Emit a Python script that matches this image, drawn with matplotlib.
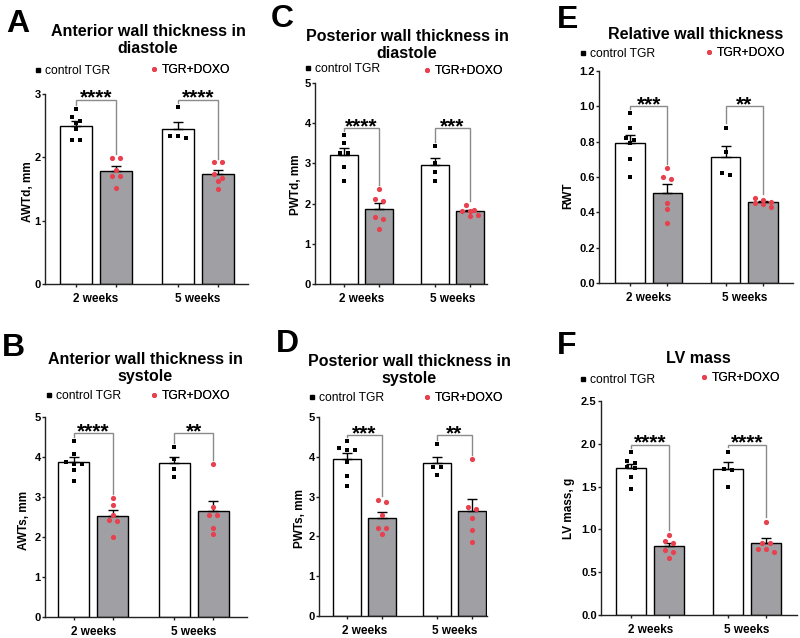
import numpy as np
import matplotlib
matplotlib.use("Agg")
import matplotlib.pyplot as plt
from matplotlib.lines import Line2D
from matplotlib import transforms

plt.rcParams['font.family'] = ['Liberation Sans', 'DejaVu Sans']

W, H = 800, 638
DPI = 100

# ---------------- data ----------------
groups = ["2 weeks", "5 weeks"]
series = ["control TGR", "TGR+DOXO"]

awtd_ctrl_2w = [2.76, 2.63, 2.57, 2.54, 2.44, 2.28, 2.27]
awtd_doxo_2w = [1.99, 1.99, 1.80, 1.71, 1.71, 1.52]
awtd_ctrl_5w = [2.80, 2.34, 2.34, 2.30]
awtd_doxo_5w = [1.92, 1.92, 1.74, 1.68, 1.62, 1.50]

pwtd_ctrl_2w = [3.71, 3.51, 3.26, 3.26, 2.91, 2.57]
pwtd_doxo_2w = [2.36, 2.11, 2.07, 1.67, 1.62, 1.38]
pwtd_ctrl_5w = [3.44, 3.01, 2.78, 2.57]
pwtd_doxo_5w = [1.97, 1.85, 1.82, 1.81, 1.72, 1.68]

rwt_ctrl_2w = [0.96, 0.88, 0.82, 0.81, 0.79, 0.70, 0.60]
rwt_doxo_2w = [0.65, 0.60, 0.59, 0.45, 0.42, 0.34]
rwt_ctrl_5w = [0.88, 0.74, 0.62, 0.61]
rwt_doxo_5w = [0.48, 0.47, 0.46, 0.45, 0.446, 0.43]

awts_ctrl_2w = [4.41, 4.08, 3.87, 3.83, 3.83, 3.68, 3.41]
awts_doxo_2w = [2.98, 2.79, 2.56, 2.43, 2.39, 1.99]
awts_ctrl_5w = [4.25, 3.95, 3.70, 3.50]
awts_doxo_5w = [3.82, 2.74, 2.55, 2.55, 2.22, 2.08]

pwts_ctrl_2w = [4.39, 4.22, 4.18, 4.16, 3.87, 3.52, 3.27]
pwts_doxo_2w = [2.91, 2.87, 2.53, 2.20, 2.20, 2.06]
pwts_ctrl_5w = [4.31, 3.75, 3.75, 3.54]
pwts_doxo_5w = [3.95, 2.74, 2.70, 2.45, 2.16, 1.86]

lvm_ctrl_2w = [1.905, 1.80, 1.78, 1.73, 1.72, 1.61, 1.47]
lvm_doxo_2w = [0.94, 0.86, 0.84, 0.76, 0.74, 0.67]
lvm_ctrl_5w = [1.91, 1.71, 1.69, 1.49]
lvm_doxo_5w = [1.09, 0.84, 0.84, 0.77, 0.77, 0.74]

titles = ["Anterior wall thickness in\ndiastole",
          "Posterior wall thickness in\ndiastole",
          "Relative wall thickness",
          "Anterior wall thickness in\nsystole",
          "Posterior wall thickness in\nsystole",
          "LV mass"]
ylabels = ["AWTd, mm", "PWTd, mm", "RWT", "AWTs, mm", "PWTs, mm", "LV mass, g"]
letters = ["A", "C", "E", "B", "D", "F"]
ymaxes = [3, 5, 1.2, 5, 5, 2.5]
ysteps = [1, 1, 0.2, 1, 1, 0.5]
yfmts = ["%d", "%d", "%.1f", "%d", "%d", "%.1f"]
stars_2w = ["****", "****", "***", "****", "***", "****"]
stars_5w = ["****", "***", "**", "**", "**", "****"]
bracket_levels = [2.91, 3.88, 1.0, 4.6, 4.54, 1.99]

panel_data = [
    (awtd_ctrl_2w, awtd_doxo_2w, awtd_ctrl_5w, awtd_doxo_5w),
    (pwtd_ctrl_2w, pwtd_doxo_2w, pwtd_ctrl_5w, pwtd_doxo_5w),
    (rwt_ctrl_2w, rwt_doxo_2w, rwt_ctrl_5w, rwt_doxo_5w),
    (awts_ctrl_2w, awts_doxo_2w, awts_ctrl_5w, awts_doxo_5w),
    (pwts_ctrl_2w, pwts_doxo_2w, pwts_ctrl_5w, pwts_doxo_5w),
    (lvm_ctrl_2w, lvm_doxo_2w, lvm_ctrl_5w, lvm_doxo_5w),
]

# ---------------- layout (pixels) ----------------
# left, right, bottom(y of 0), top(y of ymax), xlim
axes_px = [
    (45, 248, 284, 94, (-0.5, 1.49)),
    (315, 487, 284, 83, (-0.51, 1.38)),
    (599, 793, 283, 71, (-0.52, 1.51)),
    (45, 247, 617, 417, (-0.48, 1.53)),
    (319, 487, 616, 417, (-0.5, 1.36)),
    (601, 797, 615, 401, (-0.51, 1.52)),
]
title_px = [(148, 53), (407, 58), (696, 39), (145, 381), (409, 383), (698, 363)]
letter_px = [(6, 32), (271, 27), (557, 28), (2, 356), (276, 352), (557, 354)]
ylabel_px = [(29, 192), (297, 185), (569, 196), (25, 520), (301, 519), (570, 508)]
legend_px = [((38, 71), (154, 70)), ((308, 69), (427, 71)), ((583, 54), (709, 53)),
             ((49, 396), (154, 396)), ((312, 398), (427, 398)), ((583, 380), (704, 378))]

WHITE = "#ffffff"
GREY = "#a0a0a4"
RED = "#e8404f"
BLACK = "#000000"
BRK = "#8a8a8a"

OFF = 0.195
BW = 0.31

fig = plt.figure(figsize=(W / DPI, H / DPI), dpi=DPI)


def fx(px):
    return px / W


def fy(py):
    return 1 - py / H


def swarm_offsets(vals, px_per_y, px_per_x, d_px=8.0, thr_px=5.0):
    vals = np.asarray(vals, float)
    order = np.argsort(-vals)
    offs = np.zeros(len(vals))
    bins = []
    for i in order:
        ypx = vals[i] * px_per_y
        if bins and abs(bins[-1][0] - ypx) <= thr_px:
            bins[-1][1].append(i)
        else:
            bins.append([ypx, [i]])
    for _, idx in bins:
        k = len(idx)
        for j, i in enumerate(idx):
            offs[i] = (j - (k - 1) / 2) * d_px / px_per_x
    return offs


for p in range(6):
    L, R, B, T, xl = axes_px[p]
    ax = fig.add_axes([fx(L), fy(B), (R - L) / W, (B - T) / H])
    ymax = ymaxes[p]
    ax.set_xlim(*xl)
    ax.set_ylim(0, ymax)
    px_per_y = (B - T) / ymax
    px_per_x = (R - L) / (xl[1] - xl[0])

    c2, d2, c5, d5 = panel_data[p]
    sets = [(0 - OFF, c2, WHITE, 's', BLACK),
            (0 + OFF, d2, GREY, 'o', RED),
            (1 - OFF, c5, WHITE, 's', BLACK),
            (1 + OFF, d5, GREY, 'o', RED)]
    for x, vals, fc, mk, mc in sets:
        v = np.asarray(vals)
        m = v.mean()
        sem = v.std(ddof=1) / np.sqrt(len(v))
        ax.bar(x, m, width=BW, color=fc, edgecolor=BLACK, linewidth=1.0, zorder=2)
        ax.errorbar(x, m, yerr=[[0], [sem]], fmt='none', ecolor=BLACK,
                    elinewidth=1.0, capsize=3.8, capthick=1.0, zorder=3)
        offs = swarm_offsets(v, px_per_y, px_per_x)
        ax.scatter(x + offs, v, marker=mk, s=12 if mk == 's' else 14,
                   color=mc, linewidths=0, zorder=4, clip_on=False)

    # significance brackets
    gap = 0.02 * ymax
    for g, (cv, dv, st) in enumerate([(c2, d2, stars_2w[p]), (c5, d5, stars_5w[p])]):
        lvl = bracket_levels[p]
        xa, xb = g - OFF, g + OFF
        ax.plot([xa, xa, xb, xb], [max(cv) + gap, lvl, lvl, max(dv) + gap],
                color=BRK, lw=1.0, zorder=5, clip_on=False, solid_joinstyle='miter')
        tr = transforms.offset_copy(ax.transData, fig=fig, x=0, y=-4, units='dots')
        ax.text(g, lvl, st, transform=tr, ha='center', va='baseline',
                fontsize=15, fontweight='bold', color=BLACK)

    # axes styling
    for s in ['top', 'right']:
        ax.spines[s].set_visible(False)
    for s in ['left', 'bottom']:
        ax.spines[s].set_linewidth(1.0)
        ax.spines[s].set_color("#222222")
    ax.set_xticks([0 - OFF, 0 + OFF, 1 - OFF, 1 + OFF])
    ax.set_xticklabels([])
    ax.set_xticks([0, 1], minor=True)
    ax.set_xticklabels(groups, minor=True, fontsize=8.5, fontweight='bold')
    ax.tick_params(axis='x', which='major', length=2.5, width=1.0, color="#222222")
    ax.tick_params(axis='x', which='minor', length=0, pad=6.5)
    yt = np.round(np.arange(0, ymax + 1e-9, ysteps[p]), 6)
    ax.set_yticks(yt)
    ax.set_yticklabels([yfmts[p] % v for v in yt], fontsize=8, fontweight='bold')
    ax.tick_params(axis='y', length=2.3, width=1.0, pad=0.8, color="#222222")

    # title, letter, ylabel
    tx, ty = title_px[p]
    fig.text(fx(tx), fy(ty), titles[p], ha='center', va='baseline',
             fontsize=11.5, fontweight='bold', linespacing=1.2)
    lx, ly = letter_px[p]
    fig.text(fx(lx), fy(ly), letters[p], ha='left', va='baseline',
             fontsize=23, fontweight='bold')
    yx, yy = ylabel_px[p]
    fig.text(fx(yx - 1), fy(yy), ylabels[p], ha='center', va='center', rotation=90,
             fontsize=8.5, fontweight='bold')

    # legends
    (cx, cy), (dx, dy) = legend_px[p]
    h1 = Line2D([], [], marker='s', color=BLACK, ls='none', markersize=3.3)
    h2 = Line2D([], [], marker='o', color=RED, ls='none', markersize=3.6, markeredgewidth=0)
    for h, lab, (mx, my) in [(h1, series[0], (cx, cy)), (h2, series[1], (dx, dy))]:
        leg = ax.legend(handles=[h], labels=[lab], loc='center left',
                        bbox_to_anchor=(fx(mx - 3), fy(my)), bbox_transform=fig.transFigure,
                        frameon=False, fontsize=8.7, handlelength=0.5, handletextpad=0.35,
                        borderpad=0, borderaxespad=0)
        ax.add_artist(leg)

fig.savefig("out.png", dpi=DPI)
